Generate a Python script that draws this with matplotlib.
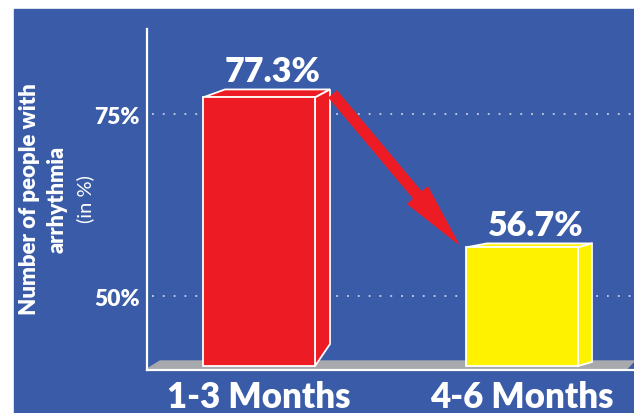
import matplotlib
matplotlib.use('Agg')
import matplotlib.pyplot as plt
from matplotlib.patches import Polygon, Rectangle, FancyArrowPatch, ArrowStyle

plt.rcParams['font.family'] = ['Lato', 'DejaVu Sans']

periods = ['1-3 Months', '4-6 Months']
values = [77.3, 56.7]
yticks = [50, 75]
ytick_labels = ['50%', '75%']

blue = '#3a5ca8'
bar_colors = ['#ed1c24', '#fff200']
floor_color = '#a7a9ac'
heavy = 'heavy'

# 3d look, in pixels: left/right depth shift, top rise, side bottom lift
depth = [(22, 15, 8, 22), (21, 14, 4, 4)]

W, H = 634, 414
fig = plt.figure(figsize=(W / 100, H / 100), dpi=100)
fig.patch.set_facecolor('white')
fig.patches.append(Rectangle((14 / W, 0), 1 - 14 / W, 404 / H,
                             transform=fig.transFigure, color=blue, zorder=-1))

ax_l, ax_r, ax_t, ax_b = 147, 634, 30, 371
ax = fig.add_axes([ax_l / W, (H - ax_b) / H, (ax_r - ax_l) / W, (ax_b - ax_t) / H])
ax.set_facecolor('none')

xlim = (-0.426, 1.426)
ylim = (39.86, 86.7)
ax.set_xlim(xlim)
ax.set_ylim(ylim)
xpp = (xlim[1] - xlim[0]) / (ax_r - ax_l)
ypp = (ylim[1] - ylim[0]) / (ax_b - ax_t)

width = 0.426
base = ylim[0] + 4 * ypp
pos = list(range(len(periods)))

# floor
ax.add_patch(Polygon([(0, 0.003), (0.027, 0.0264), (1.0, 0.0264), (0.985, 0.003)],
                     closed=True, transform=ax.transAxes, color=floor_color,
                     zorder=2, clip_on=False))

# dotted grid
for t in yticks:
    ax.axhline(t, xmin=0.01, xmax=1, color='#c8cfe2', lw=1.3,
               linestyle=(0, (1, 5)), zorder=1)

for i, (p, v, c) in enumerate(zip(pos, values, bar_colors)):
    dxl, dxr, rise, lift = depth[i]
    x0, x1 = p - width / 2, p + width / 2
    ax.bar(p, v - base, bottom=base, width=width, color=c,
           edgecolor='white', linewidth=1.3, zorder=3)
    top_face = [(x0, v), (x0 + dxl * xpp, v + rise * ypp),
                (x1 + dxr * xpp, v + rise * ypp), (x1, v)]
    side_face = [(x1, base), (x1, v), (x1 + dxr * xpp, v + rise * ypp),
                 (x1 + dxr * xpp, base + lift * ypp)]
    for face in (top_face, side_face):
        ax.add_patch(Polygon(face, closed=True, facecolor=c, edgecolor='white',
                             linewidth=1.3, zorder=2.9))
    ax.text(p + 14 * xpp, v + (rise + 8) * ypp, f'{v}%', ha='center',
            va='baseline', color='white', fontsize=24.5, fontweight=heavy, zorder=5)

# arrow from first bar to second
start = (pos[0] + width / 2 + 18 * xpp, values[0] + 3 * ypp)
end = (pos[1] - width / 2 - 8 * xpp, values[1] + 4 * ypp)
ax.add_patch(FancyArrowPatch(start, end,
                             arrowstyle=ArrowStyle.Simple(head_length=4.5, head_width=1.87,
                                                          tail_width=0.72),
                             mutation_scale=10, color=bar_colors[0],
                             shrinkA=0, shrinkB=0, zorder=4))

ax.set_xticks(pos, periods, fontsize=25, fontweight=heavy)
ax.set_yticks(yticks, ytick_labels, fontsize=16.5, fontweight=heavy)
ax.tick_params(axis='both', length=0, colors='white')
ax.tick_params(axis='x', pad=7)
ax.tick_params(axis='y', pad=5)

for s in ['top', 'right']:
    ax.spines[s].set_visible(False)
for s in ['left', 'bottom']:
    ax.spines[s].set_color('white')
    ax.spines[s].set_linewidth(1.6)
    ax.spines[s].set_zorder(2.5)

# y label, three lines
yc = 1 - 199 / H
fig.text(30 / W, yc, 'Number of people with', rotation=90, ha='center', va='center',
         color='white', fontsize=16, fontweight=heavy)
fig.text(57 / W, yc, 'arrhythmia', rotation=90, ha='center', va='center',
         color='white', fontsize=15.5, fontweight=heavy)
fig.text(85 / W, yc, '(in %)', rotation=90, ha='center', va='center',
         color='white', fontsize=14.5)

fig.savefig('out.png', dpi=100)
